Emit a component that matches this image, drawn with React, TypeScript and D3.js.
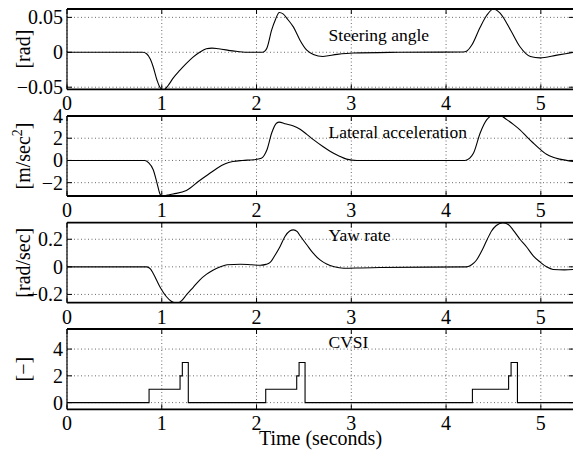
import React from 'react'
import * as d3 from 'd3'

// time axis
const xTicks = [0, 1, 2, 3, 4, 5]

// steering angle [rad]
const steerT = [0, 0.8, 0.84, 0.88, 0.91, 0.95, 0.98, 1.02, 1.07, 1.12, 1.19, 1.26, 1.33, 1.4, 1.47, 1.53, 1.6, 1.75, 1.9, 2.06, 2.09, 2.11, 2.16, 2.2, 2.24, 2.28, 2.33, 2.39, 2.46, 2.53, 2.6, 2.7, 2.85, 3.02, 3.5, 4.18, 4.22, 4.27, 4.36, 4.43, 4.5, 4.57, 4.68, 4.78, 4.89, 4.99, 5.17, 5.35]
const steerV = [0, 0, -0.002, -0.01, -0.021, -0.04, -0.05, -0.054, -0.047, -0.037, -0.026, -0.016, -0.007, 0, 0.005, 0.006, 0.005, 0.002, 0, 0, 0.002, 0.006, 0.032, 0.047, 0.057, 0.055, 0.047, 0.036, 0.017, 0.003, -0.003, -0.006, -0.003, -0.001, 0, 0.0005, 0.002, 0.01, 0.036, 0.053, 0.062, 0.056, 0.032, 0.008, -0.006, -0.008, -0.004, 0]
const steerTicks = [-0.05, 0, 0.05]

// lateral acceleration [m/sec^2]
const latT = [0, 0.82, 0.86, 0.91, 0.95, 0.98, 1.0, 1.06, 1.12, 1.26, 1.4, 1.5, 1.58, 1.67, 1.75, 1.85, 1.97, 2.05, 2.08, 2.11, 2.16, 2.21, 2.24, 2.3, 2.39, 2.46, 2.53, 2.6, 2.7, 2.78, 2.87, 2.95, 3.06, 4.2, 4.25, 4.29, 4.36, 4.43, 4.5, 4.57, 4.64, 4.71, 4.78, 4.85, 4.92, 5.0, 5.06, 5.13, 5.2, 5.35]
const latV = [0, 0, -0.2, -0.84, -2.04, -3.0, -3.22, -3.12, -3.02, -2.7, -1.8, -1.2, -0.72, -0.3, -0.1, 0, 0.06, 0.2, 0.45, 0.96, 2.47, 3.35, 3.45, 3.3, 3.1, 2.8, 2.35, 1.87, 1.25, 0.8, 0.4, 0.12, 0, 0, 0.2, 0.66, 2.47, 3.67, 4.05, 4.05, 3.67, 3.25, 2.75, 2.15, 1.57, 0.95, 0.55, 0.28, 0.12, -0.1]
const latTicks = [-2, 0, 2, 4]

// yaw rate [rad/sec]
const yawT = [0, 0.84, 0.88, 0.91, 0.98, 1.05, 1.1, 1.16, 1.21, 1.26, 1.33, 1.4, 1.47, 1.54, 1.62, 1.69, 1.83, 1.95, 2.04, 2.1, 2.14, 2.2, 2.25, 2.3, 2.35, 2.39, 2.43, 2.46, 2.53, 2.6, 2.67, 2.74, 2.82, 2.92, 3.1, 3.3, 3.8, 4.22, 4.27, 4.32, 4.38, 4.43, 4.48, 4.53, 4.6, 4.66, 4.71, 4.78, 4.85, 4.92, 4.99, 5.06, 5.13, 5.25, 5.35]
const yawV = [0, 0, -0.015, -0.048, -0.144, -0.217, -0.25, -0.265, -0.245, -0.204, -0.15, -0.096, -0.055, -0.024, 0, 0.015, 0.019, 0.015, 0.012, 0.018, 0.03, 0.09, 0.15, 0.22, 0.26, 0.268, 0.255, 0.225, 0.16, 0.097, 0.05, 0.02, 0, -0.01, -0.008, -0.005, -0.002, 0, 0.015, 0.048, 0.12, 0.193, 0.26, 0.3, 0.32, 0.305, 0.265, 0.2, 0.144, 0.08, 0.036, 0, -0.019, -0.022, -0.019]
const yawTicks = [-0.2, 0, 0.2]

// CVSI [-]
const cvsiT = [0, 0.866, 1.193, 1.217, 1.28, 2.097, 2.424, 2.449, 2.512, 4.278, 4.66, 4.686, 4.753, 5.35]
const cvsiV = [0, 1, 2, 3, 0, 1, 2, 3, 0, 1, 2, 3, 0, 0]
const cvsiTicks = [0, 2, 4]

const W = 573, H = 453
const LEFT = 67, RIGHT = 574
const FONT = '"Liberation Serif", "Times New Roman", serif'

const x = d3.scaleLinear().domain([0, 5.35]).range([LEFT, RIGHT])

const fmt = (v: number) => (v < 0 ? '\u2212' : '') + String(Math.abs(v))

const panels = [
  { t: steerT, v: steerV, ticks: steerTicks, dom: [-0.053, 0.062], top: 9, bottom: 89.3, ylab: '[rad]', title: 'Steering angle', titleDy: 32, step: false },
  { t: latT, v: latV, ticks: latTicks, dom: [-3.2, 4], top: 116, bottom: 196, ylab: 'msec', title: 'Lateral acceleration', titleDy: 21.7, step: false },
  { t: yawT, v: yawV, ticks: yawTicks, dom: [-0.26, 0.32], top: 222.7, bottom: 302.7, ylab: '[rad/sec]', title: 'Yaw rate', titleDy: 18, step: false },
  { t: cvsiT, v: cvsiV, ticks: cvsiTicks, dom: [-0.5, 5.5], top: 329, bottom: 409.3, ylab: '[\u2212]', title: 'CVSI', titleDy: 18.7, step: true },
]

function Panel({ p, i }: { p: any; i: number }) {
  const y = d3.scaleLinear().domain(p.dom).range([p.bottom, p.top])
  const pts: [number, number][] = p.t.map((t: number, k: number) => [t, p.v[k]])
  const line = d3.line<[number, number]>()
    .x(d => x(d[0]))
    .y(d => y(d[1]))
    .curve(p.step ? d3.curveStepAfter : d3.curveMonotoneX)
  const mid = (p.top + p.bottom) / 2
  const clipId = 'clip' + i
  return (
    <g>
      <defs>
        <clipPath id={clipId}>
          <rect x={LEFT} y={p.top} width={RIGHT - LEFT} height={p.bottom - p.top} />
        </clipPath>
      </defs>
      {/* grid */}
      {xTicks.map(t => (
        <line key={'gx' + t} x1={x(t)} x2={x(t)} y1={p.top} y2={p.bottom} stroke="#444" strokeWidth={0.8} strokeDasharray="1,2.5" />
      ))}
      {p.ticks.map((v: number) => (
        <line key={'gy' + v} x1={LEFT} x2={RIGHT} y1={y(v)} y2={y(v)} stroke="#444" strokeWidth={0.8} strokeDasharray="1,2.5" />
      ))}
      {/* ticks inward */}
      {xTicks.map(t => (
        <g key={'tx' + t}>
          <line x1={x(t)} x2={x(t)} y1={p.bottom} y2={p.bottom - 5} stroke="#000" />
          <line x1={x(t)} x2={x(t)} y1={p.top} y2={p.top + 5} stroke="#000" />
          <text x={x(t)} y={p.bottom + 21} textAnchor="middle" fontSize={20} fontFamily={FONT}>{fmt(t)}</text>
        </g>
      ))}
      {p.ticks.map((v: number) => (
        <g key={'ty' + v}>
          <line x1={LEFT} x2={LEFT + 5} y1={y(v)} y2={y(v)} stroke="#000" />
          <line x1={RIGHT} x2={RIGHT - 5} y1={y(v)} y2={y(v)} stroke="#000" />
          <text x={LEFT - 4} y={y(v) + 7} textAnchor="end" fontSize={20} fontFamily={FONT}>{fmt(v)}</text>
        </g>
      ))}
      {/* data */}
      <path d={line(pts) || ''} fill="none" stroke="#000" strokeWidth={1.1} clipPath={`url(#${clipId})`} />
      {/* box */}
      <line x1={LEFT} x2={RIGHT} y1={p.top} y2={p.top} stroke="#000" strokeWidth={1.8} />
      <line x1={LEFT} x2={RIGHT} y1={p.bottom} y2={p.bottom} stroke="#000" strokeWidth={1.8} />
      <line x1={LEFT} x2={LEFT} y1={p.top} y2={p.bottom} stroke="#000" strokeWidth={1.2} />
      <text x={x(2.76)} y={p.top + p.titleDy} fontSize={17.5} fontFamily={FONT}>{p.title}</text>
      <text transform={`translate(30,${mid}) rotate(-90)`} textAnchor="middle" fontSize={20} fontFamily={FONT}>
        {p.ylab === 'msec' ? (
          <>
            [m/sec<tspan fontSize={14} dy={-8}>2</tspan><tspan dy={8}>]</tspan>
          </>
        ) : p.ylab}
      </text>
    </g>
  )
}

export default function App() {
  return (
    <svg width={W} height={H} style={{ position: 'absolute', left: 0, top: 0, background: '#fff' }}>
      <rect x={0} y={0} width={W} height={H} fill="#fff" />
      {panels.map((p, i) => <Panel key={i} p={p} i={i} />)}
      <text x={(LEFT + RIGHT) / 2} y={445} textAnchor="middle" fontSize={20} fontFamily={FONT}>Time (seconds)</text>
    </svg>
  )
}
